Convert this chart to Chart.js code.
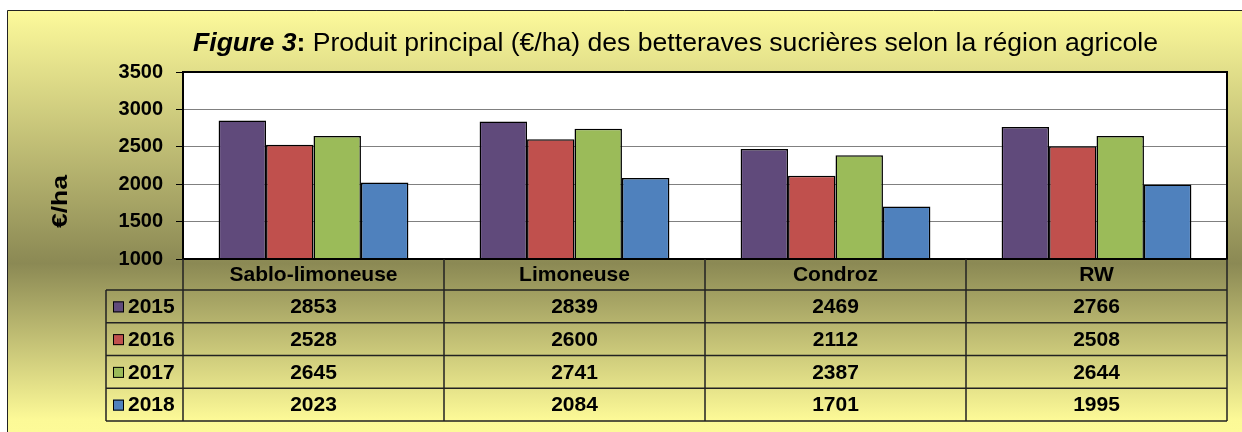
<!DOCTYPE html>
<html><head><meta charset="utf-8">
<script src="https://cdn.jsdelivr.net/npm/chart.js@4/dist/chart.umd.min.js"></script>
<style>html,body{margin:0;padding:0;background:#fff;overflow:hidden}canvas{display:block}</style>
</head><body>
<canvas id="c" width="1242" height="432"></canvas>
<script>
const categories = ['Sablo-limoneuse', 'Limoneuse', 'Condroz', 'RW'];
const years = ['2015', '2016', '2017', '2018'];
const v2015 = [2853, 2839, 2469, 2766];
const v2016 = [2528, 2600, 2112, 2508];
const v2017 = [2645, 2741, 2387, 2644];
const v2018 = [2023, 2084, 1701, 1995];
const yTicks = [1000, 1500, 2000, 2500, 3000, 3500];
const titleParts = ['Figure 3', ':', ' Produit principal (€/ha) des betteraves sucrières selon la région agricole'];
const yTitle = '€/ha';

const series = [v2015, v2016, v2017, v2018];
const colors = ['#604A7B', '#C0504D', '#9BBB59', '#4F81BD'];
const FONT = '"Liberation Sans", Arial, sans-serif';

const decor = {
  id: 'decor',
  beforeDraw(chart) {
    const ctx = chart.ctx, a = chart.chartArea;
    const W = chart.width, H = chart.height;
    ctx.save();
    ctx.fillStyle = '#fff';
    ctx.fillRect(0, 0, W, H);
    const g = ctx.createLinearGradient(0, 10, 0, H);
    g.addColorStop(0, '#FDFA9B');
    g.addColorStop(0.6, '#8B8954');
    g.addColorStop(0.97, '#FCF997');
    g.addColorStop(1, '#FDFA98');
    ctx.fillStyle = g;
    ctx.fillRect(7, 10, W - 7, H - 10);
    ctx.strokeStyle = '#222';
    ctx.lineWidth = 1;
    ctx.beginPath();
    ctx.moveTo(7.5, H); ctx.lineTo(7.5, 10.5); ctx.lineTo(W, 10.5);
    ctx.stroke();
    ctx.fillStyle = '#fff';
    ctx.fillRect(a.left, a.top, a.right - a.left, a.bottom - a.top);
    ctx.restore();
  },
  afterDatasetsDraw(chart) {
    const ctx = chart.ctx, a = chart.chartArea;
    ctx.save();
    ctx.strokeStyle = '#000';
    ctx.lineWidth = 2;
    ctx.strokeRect(a.left, a.top, a.right - a.left, a.bottom - a.top);
    ctx.restore();
  },
  afterDraw(chart) {
    const ctx = chart.ctx, a = chart.chartArea;
    ctx.save();
    // Title
    const fonts = ['italic bold 25px ' + FONT, 'bold 25px ' + FONT, '25px ' + FONT];
    const widths = titleParts.map((t, i) => { ctx.font = fonts[i]; return ctx.measureText(t).width; });
    const total = widths.reduce((s, w) => s + w, 0);
    const sx = 965 / total;
    ctx.save();
    ctx.translate(675.5 - 965 / 2, 51);
    ctx.scale(sx, 1);
    let x = 0;
    ctx.fillStyle = '#000';
    ctx.textBaseline = 'alphabetic';
    ctx.textAlign = 'left';
    titleParts.forEach((t, i) => { ctx.font = fonts[i]; ctx.fillText(t, x, 0); x += widths[i]; });
    ctx.restore();
    // Y title
    ctx.save();
    ctx.translate(60.5, 201.5);
    ctx.rotate(-Math.PI / 2);
    ctx.font = 'bold 22px ' + FONT;
    const yw = ctx.measureText(yTitle).width;
    ctx.scale(53 / yw, 1);
    ctx.textAlign = 'center';
    ctx.textBaseline = 'middle';
    ctx.fillStyle = '#000';
    ctx.fillText(yTitle, 0, 0);
    ctx.restore();
    // Data table
    const n = categories.length;
    const catW = (a.right - a.left) / n;
    const headTop = a.bottom, headBot = 290, rowH = 32.75;
    const tableBot = headBot + rowH * series.length;
    const rowLeft = 106;
    ctx.strokeStyle = '#222';
    ctx.lineWidth = 1.5;
    ctx.beginPath();
    for (let i = 0; i <= n; i++) {
      const vx = a.left + i * catW;
      ctx.moveTo(vx, headTop); ctx.lineTo(vx, tableBot);
    }
    ctx.moveTo(rowLeft, headBot); ctx.lineTo(rowLeft, tableBot);
    for (let r = 0; r <= series.length; r++) {
      const hy = headBot + r * rowH;
      ctx.moveTo(rowLeft, hy); ctx.lineTo(a.right, hy);
    }
    ctx.stroke();
    ctx.fillStyle = '#000';
    ctx.font = 'bold 21px ' + FONT;
    ctx.textBaseline = 'middle';
    ctx.textAlign = 'center';
    categories.forEach((c, i) => ctx.fillText(c, a.left + (i + 0.5) * catW, (headTop + headBot) / 2 + 1));
    series.forEach((vals, r) => {
      const cy = headBot + (r + 0.5) * rowH + 1;
      ctx.textAlign = 'center';
      ctx.fillStyle = '#000';
      vals.forEach((v, i) => ctx.fillText(String(v), a.left + (i + 0.5) * catW, cy));
      ctx.fillStyle = colors[r];
      ctx.fillRect(113, cy - 6, 11, 11);
      ctx.lineWidth = 1;
      ctx.strokeStyle = '#000';
      ctx.strokeRect(113.5, cy - 5.5, 10, 10);
      ctx.fillStyle = '#000';
      ctx.textAlign = 'left';
      ctx.fillText(years[r], 128, cy);
    });
    ctx.restore();
  }
};

new Chart(document.getElementById('c'), {
  type: 'bar',
  data: {
    labels: categories,
    datasets: series.map((vals, i) => ({
      label: years[i],
      data: vals,
      backgroundColor: colors[i],
      borderColor: '#000',
      borderWidth: 1.5,
      borderSkipped: false,
      categoryPercentage: 4 / 5.5,
      barPercentage: 1
    }))
  },
  options: {
    responsive: false,
    animation: false,
    devicePixelRatio: 1,
    layout: { padding: { left: 7, right: 15, top: 72, bottom: 173 } },
    plugins: { legend: { display: false }, tooltip: { enabled: false }, title: { display: false } },
    scales: {
      x: { display: false },
      y: {
        min: yTicks[0],
        max: yTicks[yTicks.length - 1],
        afterBuildTicks(scale) { scale.ticks = yTicks.map(v => ({ value: v })); },
        afterFit(scale) { scale.width = 176; },
        ticks: { color: '#000', font: { family: FONT, size: 20, weight: 'bold' }, padding: 13, callback: v => String(v) },
        grid: { color: '#808080', lineWidth: 1, tickLength: 7, tickColor: '#000', tickWidth: 1 },
        border: { display: false }
      }
    }
  },
  plugins: [decor]
});
</script>
</body></html>
